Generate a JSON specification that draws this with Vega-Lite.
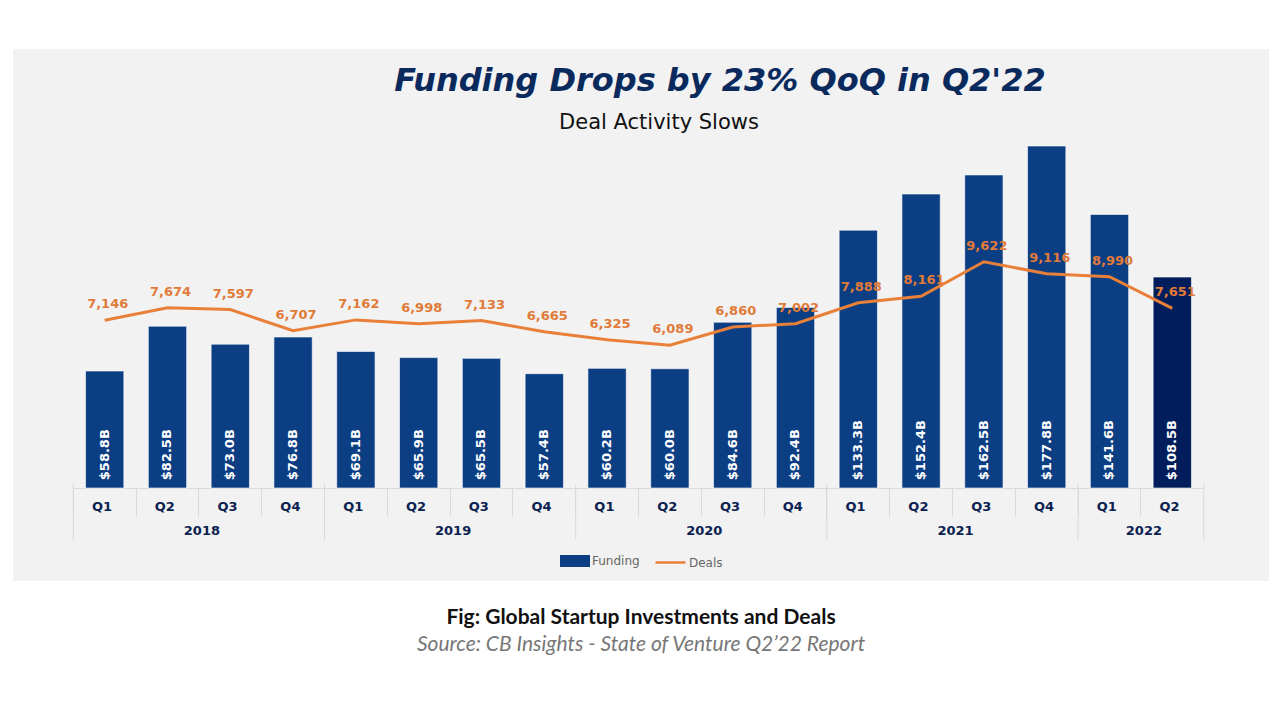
{
  "$schema": "https://vega.github.io/schema/vega-lite/v6.json",
  "background": "white",
  "padding": {"left": 13, "top": 49, "right": 11, "bottom": 10},
  "config": {"view": {"stroke": null}, "font": "DejaVu Sans", "legend": {"layout": {"bottom": {"anchor": "middle", "direction": "horizontal", "margin": 14}}}},
  "datasets": {
    "main": [
      {"period": "2018 Q1", "funding": 58.8, "deals": 7146, "label": "$58.8B"},
      {"period": "2018 Q2", "funding": 82.5, "deals": 7674, "label": "$82.5B"},
      {"period": "2018 Q3", "funding": 73.0, "deals": 7597, "label": "$73.0B"},
      {"period": "2018 Q4", "funding": 76.8, "deals": 6707, "label": "$76.8B"},
      {"period": "2019 Q1", "funding": 69.1, "deals": 7162, "label": "$69.1B"},
      {"period": "2019 Q2", "funding": 65.9, "deals": 6998, "label": "$65.9B"},
      {"period": "2019 Q3", "funding": 65.5, "deals": 7133, "label": "$65.5B"},
      {"period": "2019 Q4", "funding": 57.4, "deals": 6665, "label": "$57.4B"},
      {"period": "2020 Q1", "funding": 60.2, "deals": 6325, "label": "$60.2B"},
      {"period": "2020 Q2", "funding": 60.0, "deals": 6089, "label": "$60.0B"},
      {"period": "2020 Q3", "funding": 84.6, "deals": 6860, "label": "$84.6B"},
      {"period": "2020 Q4", "funding": 92.4, "deals": 7002, "label": "$92.4B"},
      {"period": "2021 Q1", "funding": 133.3, "deals": 7888, "label": "$133.3B"},
      {"period": "2021 Q2", "funding": 152.4, "deals": 8161, "label": "$152.4B"},
      {"period": "2021 Q3", "funding": 162.5, "deals": 9622, "label": "$162.5B"},
      {"period": "2021 Q4", "funding": 177.8, "deals": 9116, "label": "$177.8B"},
      {"period": "2022 Q1", "funding": 141.6, "deals": 8990, "label": "$141.6B"},
      {"period": "2022 Q2", "funding": 108.5, "deals": 7651, "label": "$108.5B"}
    ],
    "years": [
      {"year": "2018", "at": "2018 Q2"},
      {"year": "2019", "at": "2019 Q2"},
      {"year": "2020", "at": "2020 Q2"},
      {"year": "2021", "at": "2021 Q2"},
      {"year": "2022", "at": "2022 Q1"}
    ]
  },
  "title": {
    "text": "Funding Drops by 23% QoQ in Q2'22",
    "font": "DejaVu Sans", "fontSize": 32, "fontWeight": "bold", "fontStyle": "italic",
    "color": "#0a2a5e", "anchor": "middle", "dx": 79, "offset": -49
  },
  "spacing": 26,
  "vconcat": [
    {
      "width": 1256,
      "height": 532,
      "view": {"fill": "#f2f2f2", "stroke": null},
      "title": {"text": "Deal Activity Slows", "font": "DejaVu Sans", "fontSize": 21, "fontWeight": "normal", "color": "#111111", "anchor": "middle", "dx": 18, "offset": -84},
      "resolve": {"scale": {"y": "independent"}, "axis": {"y": "independent"}},
      "layer": [
        {
          "layer": [
            {
              "data": {"name": "main"},
              "mark": {"type": "bar", "width": {"band": 0.61}, "stroke": "#ffffff", "strokeOpacity": 0.6, "strokeWidth": 1},
              "encoding": {
                "x": {
                  "field": "period", "type": "nominal", "sort": null,
                  "scale": {"domain": ["2018 Q1","2018 Q2","2018 Q3","2018 Q4","2019 Q1","2019 Q2","2019 Q3","2019 Q4","2020 Q1","2020 Q2","2020 Q3","2020 Q4","2021 Q1","2021 Q2","2021 Q3","2021 Q4","2022 Q1","2022 Q2"], "paddingInner": 0, "paddingOuter": 1, "align": 0.48},
                  "axis": {
                    "orient": "bottom", "offset": -93, "title": null, "domainColor": "#d9d9d9",
                    "domainDash": [0, 60.3, 1130.4, 300],
                    "labelExpr": "slice(datum.value, 5)",
                    "labelFont": "DejaVu Sans", "labelFontSize": 13, "labelFontWeight": "bold", "labelColor": "#0b2150",
                    "labelAngle": 0, "labelBaseline": "middle", "labelPadding": -9.5, "labelOffset": -2.7,
                    "bandPosition": 0, "tickSize": 28, "tickColor": "#d9d9d9",
                    "grid": false, "labelFlush": false, "labelOverlap": false
                  }
                },
                "y": {"field": "funding", "type": "quantitative", "scale": {"domain": [-52.25, 229.1], "nice": false, "zero": false}, "axis": null},
                "y2": {"datum": -3.07},
                "fill": {
                  "datum": "Funding",
                  "condition": {"test": "datum.period === '2022 Q2'", "value": "#021d5b"},
                  "scale": {"domain": ["Funding"], "range": ["#0c3e84"]},
                  "legend": {
                    "orient": "bottom", "direction": "horizontal", "title": null, "offset": -110,
                    "symbolType": "M-1,-0.4H1V0.4H-1Z", "symbolSize": 900, "symbolStrokeWidth": 0,
                    "labelFont": "DejaVu Sans", "labelFontSize": 12, "labelColor": "#666666",
                    "labelOffset": 2, "padding": 0
                  }
                }
              }
            },
            {
              "data": {"name": "main"},
              "mark": {"type": "text", "angle": 270, "align": "left", "baseline": "middle", "dx": 2, "font": "DejaVu Sans", "fontSize": 13, "fontWeight": "bold", "fill": "#ffffff"},
              "encoding": {
                "x": {"field": "period", "type": "nominal", "sort": null},
                "y": {"datum": 0},
                "text": {"field": "label"}
              }
            },
            {
              "data": {"name": "main"},
              "transform": [{"filter": "indexof(datum.period, 'Q1') >= 0"}],
              "mark": {"type": "rule", "stroke": "#d9d9d9", "strokeWidth": 1},
              "encoding": {
                "x": {"field": "period", "type": "nominal", "sort": null, "bandPosition": 0},
                "y": {"datum": -0.95},
                "y2": {"datum": -30.6}
              }
            },
            {
              "data": {"name": "main"},
              "transform": [{"filter": "datum.period === '2022 Q2'"}],
              "mark": {"type": "rule", "stroke": "#d9d9d9", "strokeWidth": 1},
              "encoding": {
                "x": {"field": "period", "type": "nominal", "sort": null, "bandPosition": 1},
                "y": {"datum": -0.95},
                "y2": {"datum": -30.6}
              }
            },
            {
              "data": {"name": "years"},
              "mark": {"type": "text", "align": "center", "baseline": "middle", "dx": 3, "font": "DejaVu Sans", "fontSize": 13, "fontWeight": "bold", "fill": "#0b2150"},
              "encoding": {
                "x": {"field": "at", "type": "nominal", "sort": null, "bandPosition": 1},
                "y": {"datum": -25.8},
                "text": {"field": "year"}
              }
            }
          ]
        },
        {
          "layer": [
            {
              "data": {"name": "main"},
              "mark": {"type": "line", "strokeWidth": 3},
              "encoding": {
                "x": {"field": "period", "type": "nominal", "sort": null},
                "y": {"field": "deals", "type": "quantitative", "scale": {"domain": [-3883, 18621], "nice": false, "zero": false}, "axis": null},
                "stroke": {
                  "datum": "Deals",
                  "scale": {"domain": ["Deals"], "range": ["#e8803a"]},
                  "legend": {
                    "orient": "bottom", "direction": "horizontal", "title": null, "offset": -110,
                    "symbolType": "stroke", "symbolSize": 900, "symbolStrokeWidth": 2.5,
                    "labelFont": "DejaVu Sans", "labelFontSize": 12, "labelColor": "#666666",
                    "labelOffset": 2, "padding": 0
                  }
                }
              }
            },
            {
              "data": {"name": "main"},
              "mark": {"type": "text", "align": "center", "baseline": "alphabetic", "dx": 3, "dy": -12, "font": "DejaVu Sans", "fontSize": 13, "fontWeight": "bold", "fill": "#e07b39"},
              "encoding": {
                "x": {"field": "period", "type": "nominal", "sort": null},
                "y": {"field": "deals", "type": "quantitative"},
                "text": {"field": "deals", "type": "quantitative", "format": ","}
              }
            }
          ]
        }
      ]
    },
    {
      "width": 1256,
      "height": 1,
      "data": {"values": []},
      "mark": "text",
      "title": {
        "text": "Fig: Global Startup Investments and Deals",
        "subtitle": "Source: CB Insights - State of Venture Q2’22 Report",
        "font": "Lato", "fontSize": 21, "fontWeight": "bold", "color": "#111111",
        "subtitleFont": "Lato", "subtitleFontSize": 21, "subtitleFontStyle": "italic", "subtitleColor": "#777777",
        "subtitlePadding": 6, "anchor": "middle", "offset": 0
      }
    }
  ]
}
